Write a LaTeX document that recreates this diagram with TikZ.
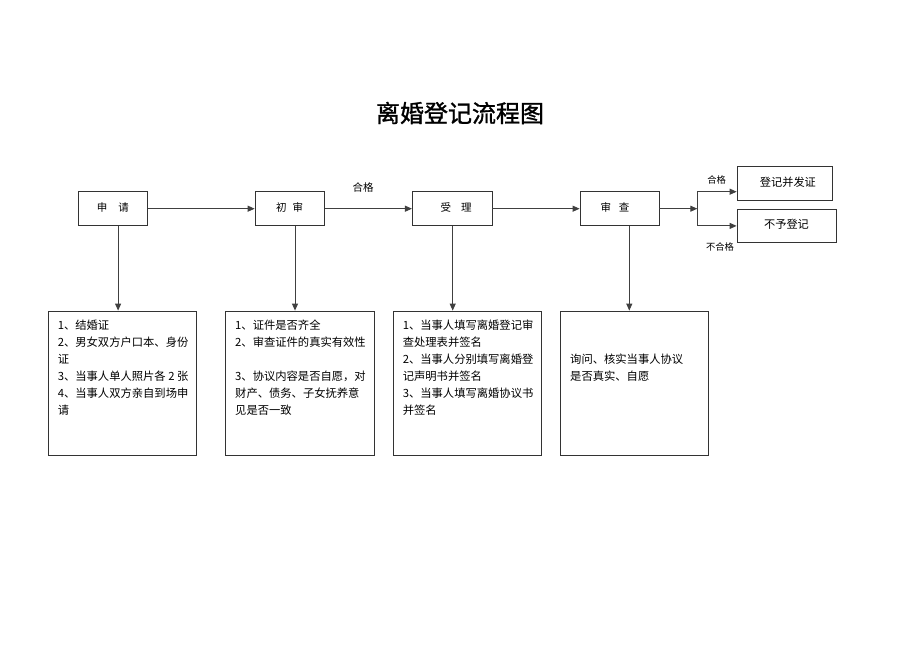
\documentclass[tikz,border=0pt]{standalone}
\usepackage{fontspec}
\newfontfamily\cjk{Noto Sans CJK SC}
\newfontfamily\cjktitle[FakeBold=1.2]{Noto Sans CJK SC}
\usetikzlibrary{arrows.meta,calc}
\newcommand{\detailtext}[2]{\parbox[b][144.7bp][t]{#1}{\leftskip=9.5bp\rightskip=0pt plus 1fil#2}}
\begin{document}
\begin{tikzpicture}[x=1bp,y=-1bp,
  box/.style={draw=black!80, line width=0.8bp, inner sep=0pt, minimum height=34bp,
    font=\cjk\fontsize{10.5bp}{12bp}\selectfont},
  detail/.style={draw=black!80, line width=0.8bp, inner sep=0pt,
    font=\cjk\fontsize{11.3bp}{17bp}\selectfont},
  arr/.style={draw=black!75, line width=0.9bp, -{Triangle[length=7bp,width=6bp]}},
  lbl/.style={inner sep=0pt, font=\cjk\fontsize{9.3bp}{11bp}\selectfont},
  ttl/.style={inner sep=0pt, font=\cjktitle\fontsize{24bp}{28bp}\selectfont}]
\useasboundingbox (0,0) rectangle (920,651);
\fill[white] (0,0) rectangle (920,651);

\node[ttl] (title) at (460,113) {离婚登记流程图};

% top row
\node[box, minimum width=69bp] (apply) at (112.8,208.7) {\raisebox{3bp}{申\hspace{11bp}请}};
\node[box, minimum width=69.3bp] (first) at (289.7,208.7) {\raisebox{3bp}{初\hspace{6bp}审}};
\node[box, minimum width=79.7bp] (accept) at (452.2,208.7) {\raisebox{3bp}{\hspace*{8bp}受\hspace{10bp}理}};
\node[box, minimum width=79bp] (review) at (619.5,208.7) {\raisebox{3bp}{审\hspace{8bp}查\hspace*{9bp}}};
\node[box, minimum width=95.7bp, minimum height=34.7bp, font=\cjk\fontsize{11.2bp}{13bp}\selectfont] (grant) at (784.9,183.3) {\raisebox{3bp}{\hspace*{6bp}登记并发证}};
\node[box, minimum width=99bp, minimum height=33.7bp, font=\cjk\fontsize{11.2bp}{13bp}\selectfont] (deny) at (786.5,225.9) {\raisebox{4bp}{不予登记}};

% labels
\node[lbl, font=\cjk\fontsize{10.5bp}{12bp}\selectfont] (ok1) at (363,187) {合格};
\node[lbl] (ok2) at (716.7,180) {合格};
\node[lbl] (nok) at (720,247) {不合格};

% bottom boxes
\node[detail] (d1) at (122.5,383.35) {\detailtext{148.4bp}{\rule{0pt}{18bp}1、结婚证\\2、男女双方户口本、身份\\证\\3、当事人单人照片各 2 张\\4、当事人双方亲自到场申\\请}};
\node[detail] (d2) at (299.85,383.35) {\detailtext{148.3bp}{\rule{0pt}{18bp}1、证件是否齐全\\2、审查证件的真实有效性\\[17bp]3、协议内容是否自愿，对\\财产、债务、子女抚养意\\见是否一致}};
\node[detail] (d3) at (467.15,383.35) {\detailtext{147.7bp}{\rule{0pt}{18bp}1、当事人填写离婚登记审\\查处理表并签名\\2、当事人分别填写离婚登\\记声明书并签名\\3、当事人填写离婚协议书\\并签名}};
\node[detail] (d4) at (634.5,383.35) {\detailtext{147.6bp}{\rule{0pt}{52bp}询问、核实当事人协议\\是否真实、自愿}};

% horizontal flow
\draw[arr] (apply) -- (first);
\draw[arr] (first) -- (accept);
\draw[arr] (accept) -- (review);
\coordinate (jn) at (697.3,208.7);
\coordinate (jtop) at (697.3,191.7);
\draw[arr] (review) -- (jn);
\draw[arr] (jn) -- (jtop) -- (jtop -| grant.west);
\draw[arr] (jn) |- (deny.west);

% vertical arrows
\draw[arr] ([xshift=5.3bp]apply.south) -- ([xshift=5.3bp]apply.south |- d1.north);
\draw[arr] ([xshift=5.3bp]first.south) -- ([xshift=5.3bp]first.south |- d2.north);
\draw[arr] ([xshift=0.5bp]accept.south) -- ([xshift=0.5bp]accept.south |- d3.north);
\draw[arr] ([xshift=9.8bp]review.south) -- ([xshift=9.8bp]review.south |- d4.north);
\end{tikzpicture}
\end{document}
